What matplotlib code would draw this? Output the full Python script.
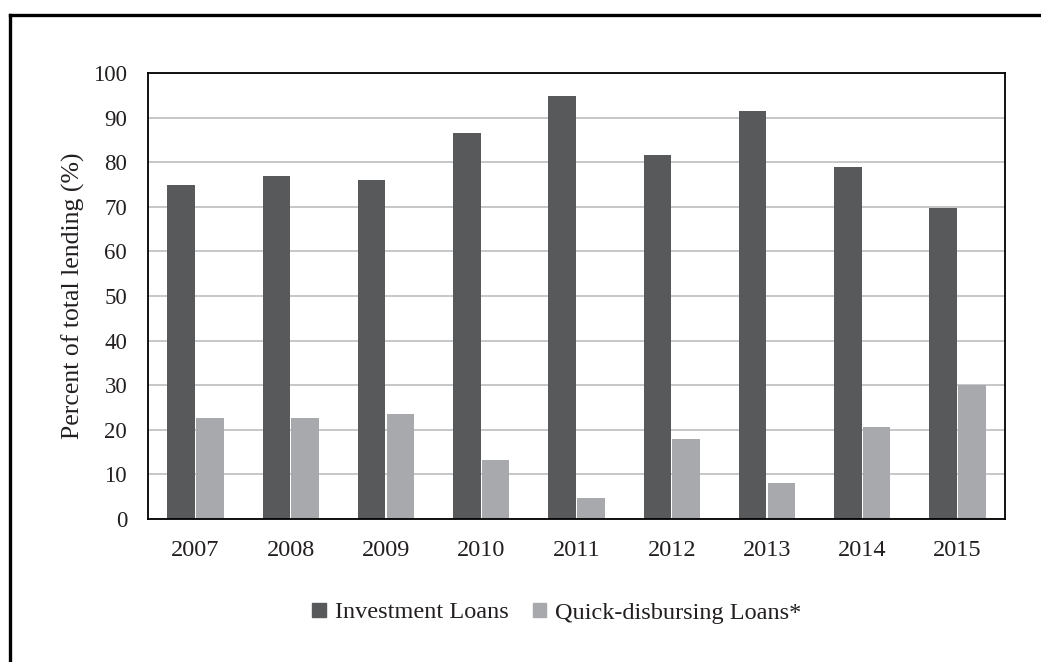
import matplotlib
matplotlib.use("Agg")
import matplotlib.pyplot as plt
from matplotlib.patches import Rectangle
from matplotlib.lines import Line2D
import numpy as np

years = ["2007", "2008", "2009", "2010", "2011", "2012", "2013", "2014", "2015"]
investment_loans = [75.0, 77.0, 76.1, 86.5, 94.8, 81.6, 91.5, 78.9, 69.7]
quick_disbursing_loans = [22.6, 22.6, 23.5, 13.2, 4.8, 17.9, 8.1, 20.6, 30.0]
series_labels = ["Investment Loans", "Quick-disbursing Loans*"]
y_ticks = [0, 10, 20, 30, 40, 50, 60, 70, 80, 90, 100]

dark = "#58595b"
light = "#a7a9ac"
text_color = "#231f20"

plt.rcParams["font.family"] = ["Liberation Serif", "DejaVu Serif"]

W, H = 1041, 662
fig = plt.figure(figsize=(W / 100, H / 100), dpi=100)
fig.patch.set_facecolor("white")

# outer frame (runs off the right and bottom edges)
fx = 10 / W
fy = 1 - 15 / H
fig.add_artist(Line2D([fx, 1.02], [fy, fy], transform=fig.transFigure,
                      color="black", lw=2.4, solid_capstyle="projecting"))
fig.add_artist(Line2D([fx, fx], [fy, -0.02], transform=fig.transFigure,
                      color="black", lw=2.4, solid_capstyle="projecting"))

left, right, top, bottom = 148, 1005, 73, 519
ax = fig.add_axes([left / W, 1 - bottom / H, (right - left) / W, (bottom - top) / H])

x = np.arange(len(years))
bw = 0.289
off = 0.151
ax.bar(x - off, investment_loans, width=bw, color=dark, zorder=2,
       label=series_labels[0])
ax.bar(x + off, quick_disbursing_loans, width=bw, color=light, zorder=2,
       label=series_labels[1])

ax.set_xlim(-0.5, len(years) - 0.5)
ax.set_ylim(0, 100)
ax.set_yticks(y_ticks)
ax.set_xticks(x)
ax.set_xticklabels(years)
ax.tick_params(axis="both", length=0, colors=text_color)
ax.tick_params(axis="y", pad=15, labelsize=16.5)
ax.tick_params(axis="x", pad=15, labelsize=17.5)

ax.yaxis.grid(True, color="#bcbdc0", lw=1.2, zorder=0)
ax.set_axisbelow(True)
for s in ax.spines.values():
    s.set_color("black")
    s.set_linewidth(1.3)

ax.set_ylabel("Percent of total lending (%)", fontsize=18.5, color=text_color,
              labelpad=6)

handles = [Rectangle((0, 0), 1, 1, color=dark), Rectangle((0, 0), 1, 1, color=light)]
fig.legend(handles, series_labels, loc="center", ncol=2,
           bbox_to_anchor=(557 / W, 1 - 613 / H), bbox_transform=fig.transFigure,
           frameon=False, fontsize=17.5, handlelength=0.54, handleheight=0.54,
           handletextpad=0.38, columnspacing=1.0, labelcolor=text_color)

fig.savefig("out.png", dpi=100)
